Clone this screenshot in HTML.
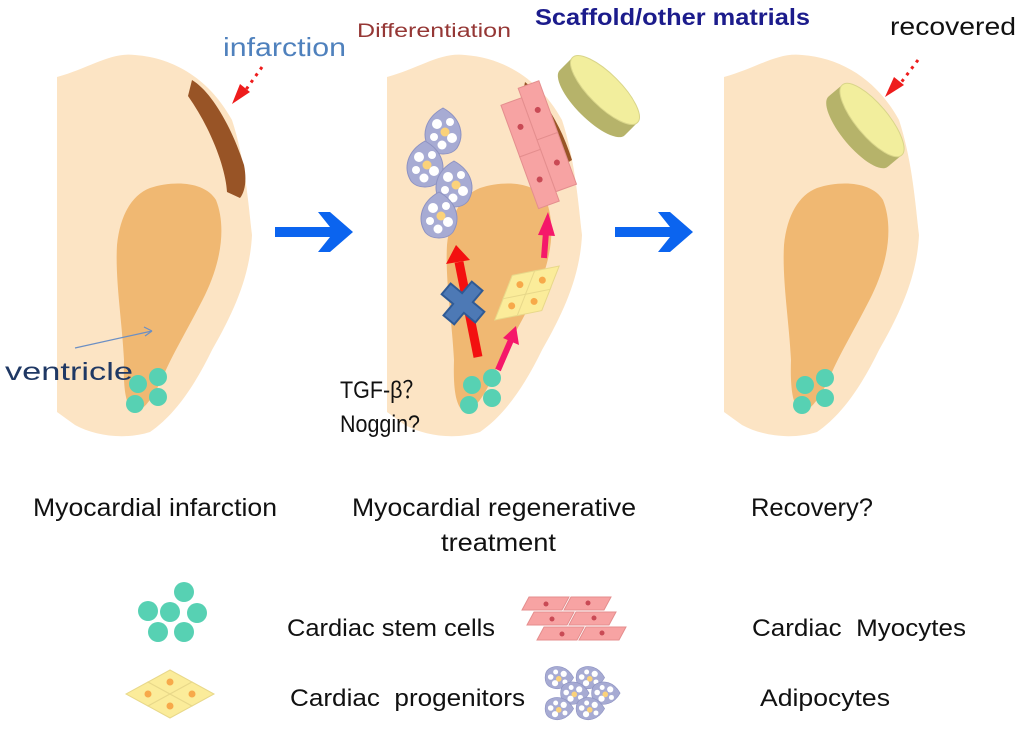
<!DOCTYPE html>
<html><head><meta charset="utf-8"><style>
html,body{margin:0;padding:0;background:#fff;}
svg{display:block;font-family:"Liberation Sans",sans-serif;}
</style></head><body>
<svg width="1024" height="733" viewBox="0 0 1024 733" xmlns="http://www.w3.org/2000/svg">
<defs>
<g id="heart">
<path d="M57,77 C90,68 110,52 135,55 C175,58 210,80 232,120 C245,160 248,200 252,235 C250,275 235,310 212,350 C195,385 175,415 150,432 C125,440 95,436 75,425 L57,412 Z" fill="#fce4c4"/>
<path d="M150,188 C175,180 205,182 216,200 C226,225 222,260 205,295 C190,325 175,350 165,372 C155,395 145,410 135,412 C126,408 123,390 124,360 C122,320 115,280 117,245 C120,215 132,195 150,188 Z" fill="#f0b872"/>
</g>
<g id="stem">
<circle cx="0" cy="0" r="9" fill="#57d1b3"/><circle cx="20" cy="-7" r="9" fill="#57d1b3"/>
<circle cx="20" cy="13" r="9" fill="#57d1b3"/><circle cx="-3" cy="20" r="9" fill="#57d1b3"/>
</g>
<g id="adipo">
<path d="M0,-22 C18,-12 22,5 14,18 C8,26 -8,26 -14,18 C-22,5 -18,-12 0,-22Z" fill="#a7abd3" stroke="#8d92c2"/>
<circle cx="-6" cy="-6" r="5" fill="#fff"/><circle cx="7" cy="-8" r="4" fill="#fff"/><circle cx="-9" cy="7" r="4" fill="#fff"/>
<circle cx="2" cy="2" r="4.5" fill="#fbd27a"/><circle cx="9" cy="8" r="5" fill="#fff"/><circle cx="-1" cy="15" r="4.5" fill="#fff"/>
</g>
<g id="prog">
<path d="M0,-12 L22,0 L0,12 L-22,0Z" fill="#fbec9a" stroke="#e8d88a"/><circle cx="0" cy="0" r="3.5" fill="#f7a94a"/>
</g>
<g id="myo">
<path d="M0,0 L40,0 L47,-13 L7,-13Z" fill="#f7a3a3" stroke="#e48e8e"/>
</g>
<g id="disc">
<ellipse cx="0" cy="0" rx="46" ry="16" fill="#f2ee9d"/>
<path d="M-46,0 L-46,18 A46,16 0 0 0 46,18 L46,0 A46,16 0 0 1 -46,0Z" fill="#b6b36a"/>
<ellipse cx="0" cy="0" rx="46" ry="16" fill="#f2ee9d" stroke="#d9d58a"/>
</g>
</defs>

<!-- Panel 1 -->
<use href="#heart"/>
<path d="M192,80 C212,92 232,128 244,165 C247,180 245,192 240,198 L227,192 C226,170 212,130 188,96 Z" fill="#985426"/>
<use href="#stem" x="138" y="384"/>
<line x1="75" y1="348" x2="152" y2="331" stroke="#6b8fc4" stroke-width="1.2"/>
<path d="M152,331 L144,327 M152,331 L145,336" stroke="#6b8fc4" stroke-width="1.2" fill="none"/>
<line x1="262" y1="67" x2="245" y2="91" stroke="#ee1c1c" stroke-width="3" stroke-dasharray="3,5"/>
<path d="M232,104 L250,92 L240,84Z" fill="#ee1c1c"/>
<text x="223" y="56" font-size="26" fill="#4f81bd" textLength="123" lengthAdjust="spacingAndGlyphs">infarction</text>
<text x="5" y="380" font-size="25" fill="#1f3864" textLength="128" lengthAdjust="spacingAndGlyphs">ventricle</text>

<!-- arrows -->
<path d="M275,227 L330,227 L318,212 L330,212 L353,232 L330,252 L318,252 L330,237 L275,237Z" fill="#0b64ef"/>
<path d="M615,227 L670,227 L658,212 L670,212 L693,232 L670,252 L658,252 L670,237 L615,237Z" fill="#0b64ef"/>

<!-- Panel 2 -->
<g transform="translate(330,0)"><use href="#heart"/></g>
<path d="M525,82 C545,98 562,128 572,160 L562,166 C555,140 540,110 523,92Z" fill="#985426"/>
<g transform="translate(537,140) rotate(70)">
<rect x="-55" y="-22" width="55" height="22" fill="#f7a3a3" stroke="#e48e8e"/>
<rect x="0" y="-22" width="55" height="22" fill="#f7a3a3" stroke="#e48e8e"/>
<rect x="-45" y="0" width="55" height="22" fill="#f7a3a3" stroke="#e48e8e"/>
<rect x="10" y="0" width="55" height="22" fill="#f7a3a3" stroke="#e48e8e"/>
<circle cx="-28" cy="-11" r="3" fill="#c94a55"/><circle cx="28" cy="-11" r="3" fill="#c94a55"/>
<circle cx="-18" cy="11" r="3" fill="#c94a55"/><circle cx="38" cy="11" r="3" fill="#c94a55"/>
</g>
<use href="#adipo" x="443" y="130"/><use href="#adipo" x="425" y="163"/>
<use href="#adipo" x="454" y="183"/><use href="#adipo" x="439" y="214"/>
<use href="#stem" x="472" y="385"/>
<line x1="478" y1="357" x2="459" y2="262" stroke="#f31010" stroke-width="9"/>
<path d="M446,264 L456,245 L470,260Z" fill="#f31010"/>
<g transform="translate(463,303) rotate(40)">
<path d="M-7,-22 L7,-22 L7,-7 L22,-7 L22,7 L7,7 L7,22 L-7,22 L-7,7 L-22,7 L-22,-7 L-7,-7Z" fill="#4d79b5" stroke="#2f5a95" stroke-width="2"/>
</g>
<line x1="498" y1="370" x2="511" y2="340" stroke="#f5186a" stroke-width="6"/>
<path d="M503,338 L516,326 L519,345Z" fill="#f5186a"/>
<line x1="544" y1="258" x2="546" y2="232" stroke="#f5186a" stroke-width="6"/>
<path d="M538,235 L548,212 L555,236Z" fill="#f5186a"/>
<g transform="translate(527,293) rotate(-40)">
<use href="#prog" x="-20" y="0"/><use href="#prog" x="0" y="-11"/><use href="#prog" x="0" y="11"/><use href="#prog" x="20" y="0"/>
</g>
<g transform="translate(605,90) rotate(45)"><use href="#disc"/></g>
<text x="357" y="37" font-size="19" fill="#953735" textLength="154" lengthAdjust="spacingAndGlyphs">Differentiation</text>
<text x="535" y="25" font-size="23" font-weight="bold" fill="#1c1c8c" textLength="275" lengthAdjust="spacingAndGlyphs">Scaffold/other matrials</text>
<text x="340" y="398" font-size="24" fill="#111" textLength="84" lengthAdjust="spacingAndGlyphs">TGF-β？</text>
<text x="340" y="432" font-size="24" fill="#111" textLength="80" lengthAdjust="spacingAndGlyphs">Noggin?</text>

<!-- Panel 3 -->
<g transform="translate(667,0)"><use href="#heart"/></g>
<use href="#stem" x="805" y="385"/>
<g transform="translate(872,120) rotate(50)"><use href="#disc"/></g>
<line x1="918" y1="60" x2="900" y2="84" stroke="#ee1c1c" stroke-width="3" stroke-dasharray="3,5"/>
<path d="M885,97 L904,85 L894,77Z" fill="#ee1c1c"/>
<text x="890" y="35" font-size="25" fill="#111" textLength="126" lengthAdjust="spacingAndGlyphs">recovered</text>

<!-- captions -->
<text x="33" y="516" font-size="25" fill="#111" textLength="244" lengthAdjust="spacingAndGlyphs">Myocardial infarction</text>
<text x="352" y="516" font-size="25" fill="#111" textLength="284" lengthAdjust="spacingAndGlyphs">Myocardial regenerative</text>
<text x="441" y="551" font-size="25" fill="#111" textLength="115" lengthAdjust="spacingAndGlyphs">treatment</text>
<text x="751" y="516" font-size="25" fill="#111" textLength="122" lengthAdjust="spacingAndGlyphs">Recovery?</text>

<!-- legend -->
<g fill="#57d1b3">
<circle cx="184" cy="592" r="10"/><circle cx="170" cy="612" r="10"/><circle cx="197" cy="613" r="10"/>
<circle cx="158" cy="632" r="10"/><circle cx="184" cy="632" r="10"/>
<circle cx="148" cy="611" r="10"/>
</g>
<g transform="translate(170,694)">
<use href="#prog" x="-22" y="0"/><use href="#prog" x="0" y="-12"/><use href="#prog" x="0" y="12"/><use href="#prog" x="22" y="0"/>
</g>
<g>
<use href="#myo" x="522" y="610"/><use href="#myo" x="564" y="610"/>
<use href="#myo" x="527" y="625"/><use href="#myo" x="569" y="625"/>
<use href="#myo" x="537" y="640"/><use href="#myo" x="579" y="640"/>
<circle cx="546" cy="604" r="2.5" fill="#c94a55"/><circle cx="588" cy="603" r="2.5" fill="#c94a55"/>
<circle cx="552" cy="619" r="2.5" fill="#c94a55"/><circle cx="594" cy="618" r="2.5" fill="#c94a55"/>
<circle cx="562" cy="634" r="2.5" fill="#c94a55"/><circle cx="602" cy="633" r="2.5" fill="#c94a55"/>
</g>
<g transform="translate(-15,0)">
<g transform="translate(575,690) scale(0.62)">
<use href="#adipo" x="0" y="-20" transform="rotate(90 0 -20)"/>
<use href="#adipo" x="50" y="-20" transform="rotate(90 50 -20)"/>
<use href="#adipo" x="25" y="5" transform="rotate(90 25 5)"/>
<use href="#adipo" x="75" y="5" transform="rotate(90 75 5)"/>
<use href="#adipo" x="0" y="30" transform="rotate(90 0 30)"/>
<use href="#adipo" x="50" y="30" transform="rotate(90 50 30)"/>
</g>
</g>
<text x="287" y="636" font-size="24" fill="#111" textLength="208" lengthAdjust="spacingAndGlyphs">Cardiac stem cells</text>
<text x="752" y="636" font-size="24" fill="#111" xml:space="preserve" textLength="214" lengthAdjust="spacingAndGlyphs">Cardiac  Myocytes</text>
<text x="290" y="706" font-size="24" fill="#111" xml:space="preserve" textLength="235" lengthAdjust="spacingAndGlyphs">Cardiac  progenitors</text>
<text x="760" y="706" font-size="24" fill="#111" textLength="130" lengthAdjust="spacingAndGlyphs">Adipocytes</text>
</svg>
</body></html>
